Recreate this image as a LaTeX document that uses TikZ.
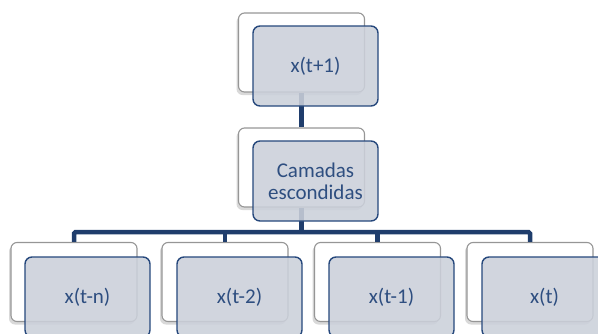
\documentclass[tikz,border=0pt]{standalone}
\usepackage{fontspec}
\setmainfont{Carlito}
\usetikzlibrary{shadows}
\definecolor{linkblue}{RGB}{31,61,108}
\definecolor{frameblue}{RGB}{38,72,124}
\definecolor{textblue}{RGB}{46,78,128}
\definecolor{cardfill}{RGB}{203,208,218}
\definecolor{backframe}{RGB}{150,150,150}
\tikzset{
  backcard/.style={draw=backframe, line width=1.1pt, fill=white, rounded corners=6pt,
    minimum width=126pt, minimum height=79pt, inner sep=0pt,
    drop shadow={shadow xshift=-2pt, shadow yshift=-3pt, opacity=0.25, fill=black!60}},
  frontcard/.style={draw=frameblue, line width=1.4pt, fill=cardfill, fill opacity=0.88,
    text opacity=1, rounded corners=7pt, minimum width=125pt, minimum height=80pt,
    inner sep=0pt, align=center, text=textblue,
    font=\fontsize{21pt}{22pt}\selectfont},
  link/.style={draw=linkblue, line width=4.5pt, rounded corners=1.5pt}
}
\begin{document}
\begin{tikzpicture}[x=1pt,y=-1pt]
\useasboundingbox (0,0) rectangle (598,333);
\clip (0,0) rectangle (598,333);
% back cards
\node[backcard] (wt) at (301.5,52.5) {};
\node[backcard] (wm) at (301.5,167.5) {};
\node[backcard] (w1) at (74,282) {};
\node[backcard] (w2) at (225,282) {};
\node[backcard] (w3) at (377.5,282) {};
\node[backcard] (w4) at (530,282) {};
% connectors
\coordinate (hub) at (301.5,232);
\draw[link] (wt.south) -- (wm.north);
\draw[link] (wm.south) -- (hub);
\draw[link] (w1.north) |- (hub) -| (w4.north);
\draw[link] (w2.north) -- (w2.north |- hub);
\draw[link] (w3.north) -- (w3.north |- hub);
% front cards
\node[frontcard] (bt) at (315.5,66) {x(t+1)};
\node[frontcard] (bm) at (315.5,181) {Camadas\\escondidas};
\node[frontcard] (b1) at (87.5,297) {x(t-n)};
\node[frontcard] (b2) at (239.5,297) {x(t-2)};
\node[frontcard] (b3) at (391.5,297) {x(t-1)};
\node[frontcard] (b4) at (544.5,297) {x(t)};
\end{tikzpicture}
\end{document}
